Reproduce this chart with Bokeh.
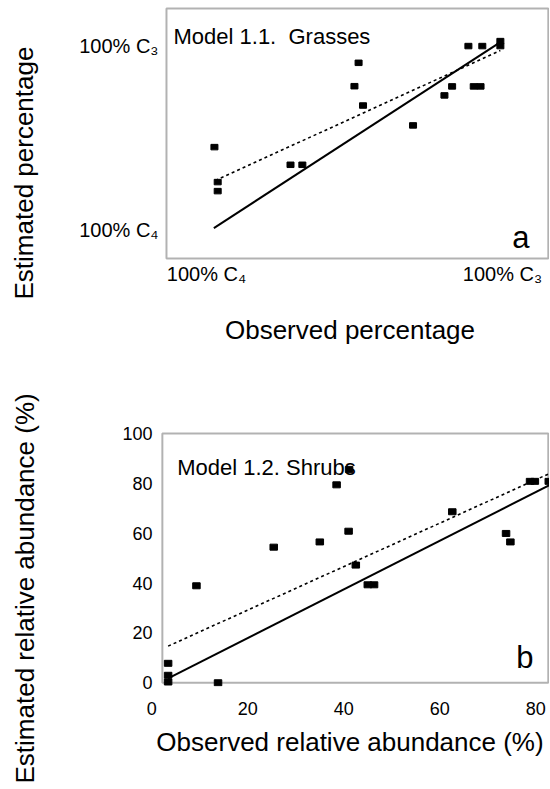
import math
from bokeh.plotting import figure
from bokeh.models import Range1d, FixedTicker, Label, BoxAnnotation
from bokeh.layouts import column, row
from bokeh.embed import file_html
from bokeh.resources import INLINE

FONT = "Liberation Sans"

# ---------------- Panel a: Model 1.1 Grasses ----------------
a_ticks = [0, 100]
a_tick_labels = {0: "100% C\u2084", 100: "100% C\u2083"}
a_box_x = [-13.5, 115.5]   # extent of the drawn axes box
a_box_y = [-15.2, 120.6]
a_obs = [2.7, 3.8, 3.8, 28.4, 32.4, 50.0, 51.4, 52.9, 69.8, 80.4, 83.0, 88.5, 93.2, 90.3, 92.6, 99.3, 99.3]
a_est = [45.3, 26.3, 21.4, 35.7, 35.7, 78.4, 91.1, 67.9, 57.1, 73.4, 78.3, 100.2, 100.2, 78.3, 78.3, 102.9, 100.2]
a_solid_x = [2.5, 98.8]
a_solid_y = [1.3, 101.8]
a_dotted_x = [3.0, 99.3]
a_dotted_y = [27.2, 97.8]

# ---------------- Panel b: Model 1.2 Shrubs ----------------
b_xticks = [0, 20, 40, 60, 80]
b_yticks = [0, 20, 40, 60, 80, 100]
b_box_x = [2.2, 82.6]      # extent of the drawn axes box
b_box_y = [0, 100]
b_obs = [3.4, 3.4, 3.4, 13.8, 9.3, 25.4, 35.0, 38.5, 41.1, 41.0, 42.5, 45.0, 46.3, 62.6, 73.8, 74.7, 78.8, 79.8, 82.7]
b_est = [7.8, 3.0, 0.3, 0.0, 38.9, 54.4, 56.5, 79.4, 85.6, 60.8, 47.2, 39.3, 39.3, 68.6, 59.9, 56.5, 80.8, 80.8, 80.8]
b_solid_x = [3.4, 82.9]
b_solid_y = [1.8, 79.3]
b_dotted_x = [3.4, 82.9]
b_dotted_y = [14.7, 84.0]


def style(p):
    p.xgrid.visible = False
    p.ygrid.visible = False
    p.background_fill_color = "white"
    p.border_fill_color = "white"
    p.outline_line_color = None
    for ax in (p.xaxis[0], p.yaxis[0]):
        ax.axis_line_color = None
        ax.major_tick_line_color = None
        ax.minor_tick_line_color = None
        ax.major_label_text_font = FONT
        ax.major_label_text_color = "black"
        ax.axis_label_text_font = FONT
        ax.axis_label_text_font_style = "normal"
        ax.axis_label_text_color = "black"


def box(p, bx, by):
    p.add_layout(BoxAnnotation(left=bx[0], right=bx[1], bottom=by[0], top=by[1],
                               fill_alpha=0, line_color="black", line_width=2))


# ---- figure a ----
p1 = figure(width=509, height=382, output_backend="svg", toolbar_location=None,
            x_range=Range1d(-18.9, 115.9), y_range=Range1d(-16.3, 121.7),
            min_border_left=110, min_border_right=0, min_border_top=6, min_border_bottom=122)
style(p1)
box(p1, a_box_x, a_box_y)
p1.xaxis.ticker = FixedTicker(ticks=a_ticks)
p1.yaxis.ticker = FixedTicker(ticks=a_ticks)
p1.xaxis.major_label_overrides = a_tick_labels
p1.yaxis.major_label_overrides = a_tick_labels
p1.xaxis.major_label_text_font_size = "20px"
p1.yaxis.major_label_text_font_size = "20px"
p1.xaxis.major_label_standoff = -4
p1.yaxis.major_label_standoff = -14
p1.xaxis.axis_label = "Observed percentage"
p1.xaxis.axis_label_text_font_size = "26px"
p1.xaxis.axis_label_standoff = 27

p1.line(a_solid_x, a_solid_y, line_color="black", line_width=2)
p1.line(a_dotted_x, a_dotted_y, line_color="black", line_width=1.6, line_dash="3 3")
p1.rect(x=a_obs, y=a_est, width=7, height=5.5, width_units="screen", height_units="screen",
        fill_color="black", line_color="black")

p1.add_layout(Label(x=23, y=224, x_units="screen", y_units="screen", text="Model 1.1.\u00a0 Grasses",
                    text_align="left", text_baseline="alphabetic",
                    text_font=FONT, text_font_size="22px", text_color="black"))
p1.add_layout(Label(x=379, y=22.7, x_units="screen", y_units="screen", text="a",
                    text_align="right", text_baseline="alphabetic",
                    text_font=FONT, text_font_size="31px", text_color="black"))

# ---- figure b ----
p2 = figure(width=509, height=406, output_backend="svg", toolbar_location=None,
            x_range=Range1d(-0.27, 82.85), y_range=Range1d(-1.5, 100.8),
            min_border_left=110, min_border_right=0, min_border_top=49, min_border_bottom=102)
style(p2)
box(p2, b_box_x, b_box_y)
p2.xaxis.ticker = FixedTicker(ticks=b_xticks)
p2.yaxis.ticker = FixedTicker(ticks=b_yticks)
p2.xaxis.major_label_text_font_size = "18px"
p2.yaxis.major_label_text_font_size = "18px"
p2.xaxis.major_label_standoff = 9
p2.yaxis.major_label_standoff = -8
p2.xaxis.axis_label = "Observed relative abundance (%)"
p2.xaxis.axis_label_text_font_size = "26px"
p2.xaxis.axis_label_standoff = 9

p2.line(b_solid_x, b_solid_y, line_color="black", line_width=2)
p2.line(b_dotted_x, b_dotted_y, line_color="black", line_width=1.6, line_dash="3 3")
p2.rect(x=b_obs, y=b_est, width=7.5, height=6, width_units="screen", height_units="screen",
        fill_color="black", line_color="black")

p2.add_layout(Label(x=26.7, y=219.3, x_units="screen", y_units="screen", text="Model 1.2. Shrubs",
                    text_align="left", text_baseline="alphabetic",
                    text_font=FONT, text_font_size="22px", text_color="black"))
p2.add_layout(Label(x=383, y=29.3, x_units="screen", y_units="screen", text="b",
                    text_align="right", text_baseline="alphabetic",
                    text_font=FONT, text_font_size="31px", text_color="black"))

# ---- tall strip holding the two vertical axis titles ----
lab = figure(width=40, height=788, output_backend="svg", toolbar_location=None,
             x_range=Range1d(0, 1), y_range=Range1d(0, 1),
             x_axis_type=None, y_axis_type=None, min_border=0)
lab.outline_line_color = None
lab.xgrid.visible = False
lab.ygrid.visible = False
lab.add_layout(Label(x=23, y=489, x_units="screen", y_units="screen", text="Estimated percentage",
                     angle=math.pi / 2, text_align="left", text_baseline="alphabetic",
                     text_font=FONT, text_font_size="26px", text_color="black"))
lab.add_layout(Label(x=24, y=5, x_units="screen", y_units="screen",
                     text="Estimated relative abundance (%)",
                     angle=math.pi / 2, text_align="left", text_baseline="alphabetic",
                     text_font=FONT, text_font_size="26px", text_color="black"))

layout = row(lab, column(p1, p2))
open("out.html", "w").write(file_html(layout, INLINE))
